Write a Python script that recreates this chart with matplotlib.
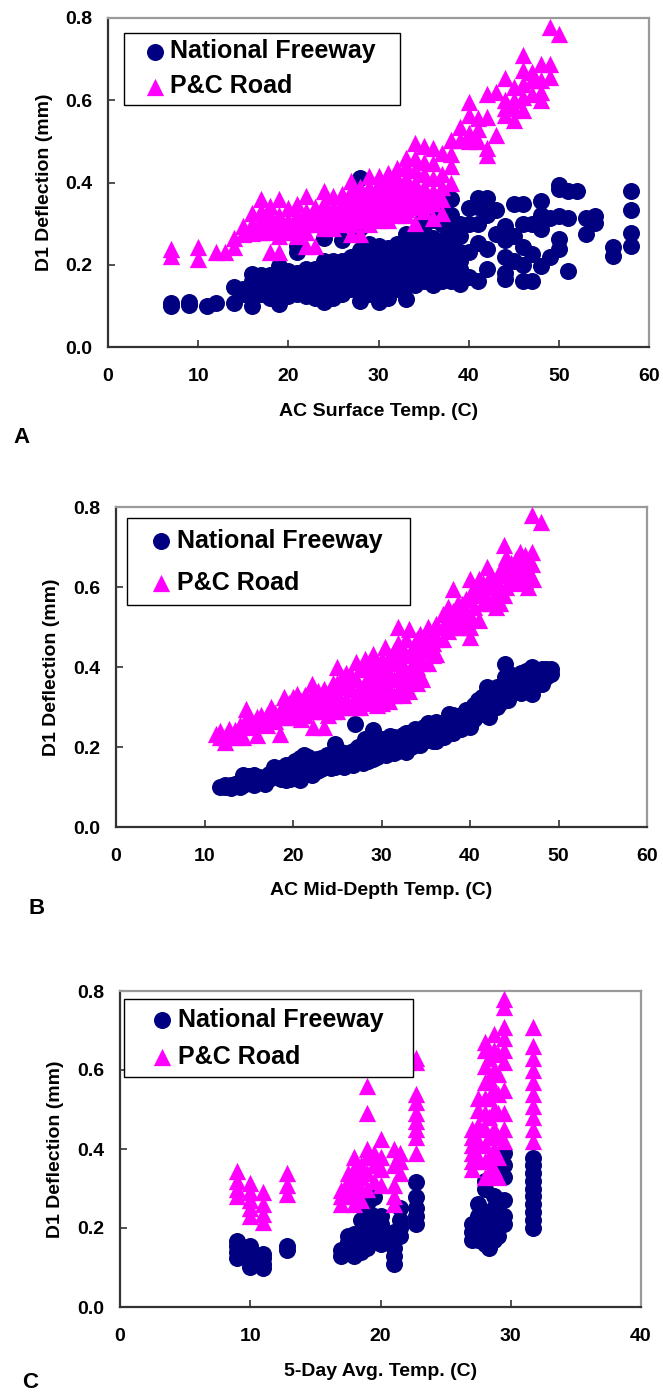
import matplotlib
matplotlib.use("Agg")
import matplotlib.pyplot as plt
from matplotlib.ticker import FormatStrFormatter

plt.rcParams['font.family'] = ['Liberation Sans', 'DejaVu Sans']
plt.rcParams['font.weight'] = 'bold'

# ---------------- Panel A: AC surface temperature ----------------
A_nf_temp = [7, 9, 11, 12, 14, 15, 16, 17, 18, 19, 20, 21, 22, 23, 24, 25, 26, 27, 28, 29,
             30, 31, 32, 33, 34, 35, 36, 37, 38, 39, 40, 41, 42, 43, 44, 45, 46, 47, 48, 49,
             50, 51, 52, 53, 54, 56, 58]
A_nf_defl = [[0.100, 0.108], [0.102, 0.110], [0.100], [0.108], [0.107, 0.145],
             [0.140, 0.130],
             [0.100, 0.125, 0.140, 0.160, 0.177],
             [0.130, 0.150, 0.165, 0.175],
             [0.120, 0.135, 0.150, 0.160, 0.175],
             [0.105, 0.130, 0.150, 0.170, 0.197],
             [0.125, 0.140, 0.155, 0.170, 0.185],
             [0.130, 0.150, 0.165, 0.180, 0.230, 0.245],
             [0.125, 0.140, 0.160, 0.175, 0.190],
             [0.120, 0.140, 0.155, 0.170, 0.190],
             [0.110, 0.130, 0.150, 0.165, 0.180, 0.210, 0.265],
             [0.120, 0.140, 0.160, 0.175, 0.190, 0.210],
             [0.130, 0.150, 0.170, 0.185, 0.200, 0.210, 0.260],
             [0.140, 0.160, 0.175, 0.190, 0.205, 0.220],
             [0.113, 0.150, 0.170, 0.185, 0.200, 0.215, 0.235, 0.290, 0.410],
             [0.130, 0.145, 0.160, 0.180, 0.200, 0.220, 0.240, 0.250],
             [0.110, 0.140, 0.155, 0.170, 0.185, 0.200, 0.215, 0.230, 0.245],
             [0.120, 0.150, 0.160, 0.175, 0.190, 0.205, 0.220, 0.240],
             [0.140, 0.160, 0.180, 0.195, 0.210, 0.230, 0.250],
             [0.117, 0.150, 0.170, 0.190, 0.205, 0.220, 0.250, 0.274],
             [0.150, 0.165, 0.180, 0.195, 0.210, 0.225, 0.240, 0.262],
             [0.160, 0.175, 0.190, 0.210, 0.230, 0.250, 0.280, 0.314],
             [0.150, 0.165, 0.180, 0.195, 0.210, 0.225, 0.240, 0.266, 0.310],
             [0.160, 0.180, 0.200, 0.215, 0.230, 0.260, 0.300, 0.330],
             [0.160, 0.175, 0.190, 0.205, 0.220, 0.250, 0.280, 0.320, 0.359],
             [0.153, 0.170, 0.190, 0.210, 0.230, 0.270, 0.300],
             [0.170, 0.230, 0.300, 0.338],
             [0.161, 0.254, 0.300, 0.340, 0.363],
             [0.190, 0.238, 0.320, 0.363],
             [0.274, 0.334],
             [0.165, 0.180, 0.220, 0.260, 0.294],
             [0.210, 0.270, 0.347],
             [0.161, 0.200, 0.242, 0.300, 0.347],
             [0.161, 0.226, 0.300],
             [0.197, 0.286, 0.320, 0.355],
             [0.218, 0.314],
             [0.238, 0.262, 0.318, 0.383, 0.395],
             [0.185, 0.314, 0.379], [0.379], [0.274, 0.314], [0.302, 0.318], [0.222, 0.242],
             [0.246, 0.278, 0.334, 0.379]]

A_pc_temp = [7, 10, 12, 13, 14, 15, 16, 17, 18, 19, 20, 21, 22, 23, 24, 25, 26, 27, 28, 29,
             30, 31, 32, 33, 34, 35, 36, 37, 38, 39, 40, 41, 42, 43, 44, 45, 46, 47, 48, 49, 50]
A_pc_defl = [[0.222, 0.238], [0.214, 0.242], [0.230], [0.230], [0.242, 0.266], [0.274, 0.294],
             [0.278, 0.300, 0.326],
             [0.280, 0.300, 0.310, 0.330, 0.359],
             [0.230, 0.280, 0.300, 0.320, 0.342],
             [0.230, 0.270, 0.290, 0.305, 0.320, 0.359],
             [0.280, 0.295, 0.310, 0.338],
             [0.270, 0.290, 0.305, 0.320, 0.347],
             [0.246, 0.280, 0.300, 0.315, 0.330, 0.367],
             [0.246, 0.300, 0.320, 0.340],
             [0.290, 0.300, 0.315, 0.330, 0.350, 0.379],
             [0.290, 0.310, 0.325, 0.340, 0.367],
             [0.300, 0.315, 0.330, 0.350, 0.371],
             [0.274, 0.300, 0.320, 0.335, 0.350, 0.365, 0.380, 0.403],
             [0.274, 0.310, 0.325, 0.340, 0.355, 0.370, 0.390],
             [0.300, 0.315, 0.330, 0.345, 0.360, 0.375, 0.390, 0.415],
             [0.310, 0.320, 0.340, 0.355, 0.370, 0.385, 0.400, 0.415],
             [0.310, 0.330, 0.345, 0.360, 0.375, 0.390, 0.405, 0.423],
             [0.320, 0.335, 0.350, 0.365, 0.380, 0.395, 0.410, 0.435],
             [0.320, 0.335, 0.350, 0.365, 0.380, 0.395, 0.410, 0.440, 0.460],
             [0.302, 0.340, 0.355, 0.370, 0.385, 0.400, 0.430, 0.460, 0.496],
             [0.330, 0.345, 0.360, 0.375, 0.390, 0.420, 0.450, 0.488],
             [0.314, 0.350, 0.365, 0.380, 0.410, 0.447, 0.483],
             [0.326, 0.359, 0.390, 0.420, 0.471],
             [0.399, 0.439, 0.470, 0.504],
             [0.504, 0.536],
             [0.500, 0.520, 0.564, 0.596],
             [0.500, 0.530, 0.556],
             [0.467, 0.484, 0.560, 0.616],
             [0.516, 0.620],
             [0.564, 0.580, 0.600, 0.653],
             [0.552, 0.580, 0.600, 0.633],
             [0.576, 0.608, 0.640, 0.673, 0.709],
             [0.616, 0.650, 0.669],
             [0.600, 0.620, 0.649, 0.689],
             [0.657, 0.689, 0.778],
             [0.761]]

# ---------------- Panel B: AC mid-depth temperature ----------------
B_nf_temp = [11.7, 12.3, 13.0, 13.5, 14.0, 14.4, 15.0, 15.6, 16.2, 16.8, 17.3, 17.8, 18.2, 18.7,
             19.2, 19.7, 20.2, 20.8, 21.2, 21.7, 22.2, 22.7, 23.2, 23.8, 24.3, 24.7, 25.2, 25.8,
             26.3, 26.8, 27.0, 27.4, 27.9, 28.1, 28.5, 29.0, 29.5, 30.0, 30.5, 31.0, 31.4, 31.9,
             32.4, 32.8, 33.3, 33.8, 34.3, 34.8, 35.3, 35.8, 36.2, 36.7, 37.1, 37.6, 38.1, 38.6,
             39.0, 39.5, 40.0, 40.5, 40.9, 41.4, 41.9, 42.2, 42.6, 43.0, 43.4, 43.9, 44.3, 44.8,
             45.3, 45.8, 46.3, 46.8, 47.0, 47.5, 48.1, 48.6, 49.1]
B_nf_defl = [[0.100], [0.100, 0.106], [0.104, 0.098], [0.108], [0.100, 0.112], [0.129, 0.106],
             [0.115, 0.128], [0.129, 0.105], [0.118, 0.126], [0.108, 0.125], [0.132, 0.120],
             [0.150, 0.128], [0.140, 0.125], [0.120, 0.135, 0.148], [0.117, 0.140, 0.155],
             [0.120, 0.150, 0.135], [0.165, 0.138, 0.122], [0.118, 0.150, 0.172],
             [0.180, 0.145, 0.130], [0.135, 0.160, 0.175], [0.168, 0.145, 0.130],
             [0.140, 0.150, 0.170], [0.145, 0.155, 0.172], [0.150, 0.165, 0.180],
             [0.148, 0.160, 0.175], [0.208, 0.165, 0.150], [0.160, 0.178, 0.190],
             [0.170, 0.150, 0.185], [0.160, 0.185, 0.172], [0.155, 0.172, 0.190], [0.258],
             [0.165, 0.185, 0.200], [0.160, 0.178, 0.200], [0.221], [0.175, 0.195, 0.165],
             [0.242, 0.170, 0.200, 0.185], [0.175, 0.190, 0.210], [0.185, 0.205, 0.220],
             [0.180, 0.195, 0.220], [0.190, 0.212, 0.228], [0.225, 0.200, 0.185],
             [0.205, 0.222, 0.190], [0.200, 0.230, 0.215], [0.188, 0.215, 0.235],
             [0.200, 0.215, 0.235], [0.205, 0.228, 0.245], [0.220, 0.240, 0.205],
             [0.250, 0.215, 0.232], [0.225, 0.245, 0.260], [0.215, 0.230, 0.255],
             [0.215, 0.240, 0.262], [0.235, 0.260, 0.225], [0.258, 0.225, 0.240],
             [0.245, 0.265, 0.282], [0.235, 0.260, 0.280], [0.255, 0.275, 0.245],
             [0.245, 0.280, 0.262], [0.292, 0.260, 0.275], [0.250, 0.275, 0.295],
             [0.270, 0.285, 0.305], [0.317, 0.295, 0.280], [0.300, 0.325, 0.285],
             [0.350, 0.315, 0.300], [0.275, 0.300, 0.330], [0.320, 0.340, 0.300],
             [0.300, 0.335, 0.350], [0.310, 0.345, 0.325], [0.408, 0.375, 0.320, 0.345],
             [0.317, 0.350, 0.335], [0.335, 0.360, 0.380], [0.340, 0.370, 0.355],
             [0.335, 0.360, 0.385], [0.350, 0.375, 0.390], [0.355, 0.385, 0.370],
             [0.400, 0.333], [0.370, 0.390, 0.355], [0.358, 0.380, 0.395], [0.375, 0.395],
             [0.396, 0.383]]

B_pc_temp = [11.3, 11.8, 12.3, 12.8, 13.5, 14.0, 14.4, 14.7, 15.2, 15.9, 16.4, 17.1, 17.5, 18.0,
             18.5, 19.0, 19.5, 20.0, 20.4, 20.9, 21.4, 22.1, 22.3, 22.8, 23.5, 24.0, 24.5, 25.0,
             25.5, 26.0, 26.5, 27.1, 27.6, 28.1, 28.6, 29.0, 29.5, 30.0, 30.4, 30.9, 31.4, 31.9,
             32.4, 32.8, 33.1, 33.6, 34.0, 34.3, 34.6, 35.2, 35.8, 36.2, 36.9, 37.5, 38.1, 38.6,
             39.1, 39.6, 40.0, 40.5, 41.0, 41.5, 41.9, 42.4, 42.9, 43.4, 43.8, 44.1, 44.6, 45.2,
             45.7, 46.2, 46.5, 47.0, 47.1, 48.0]
B_pc_defl = [[0.233], [0.225, 0.240], [0.225, 0.212], [0.230, 0.245], [0.242, 0.225],
             [0.235, 0.255], [0.225], [0.296, 0.271], [0.250, 0.265], [0.275, 0.229],
             [0.260, 0.280], [0.279, 0.255], [0.300, 0.270], [0.285, 0.265], [0.233, 0.290],
             [0.325, 0.275, 0.300], [0.310, 0.285], [0.300, 0.325, 0.275], [0.333, 0.280, 0.305],
             [0.290, 0.315, 0.270], [0.300, 0.330, 0.280], [0.358, 0.300, 0.330],
             [0.250, 0.320, 0.290], [0.310, 0.340, 0.290], [0.250, 0.320, 0.345, 0.290],
             [0.300, 0.335, 0.280], [0.310, 0.360, 0.290, 0.335], [0.400, 0.330, 0.290, 0.360],
             [0.350, 0.310, 0.375], [0.320, 0.360, 0.385, 0.300], [0.300, 0.345, 0.380],
             [0.413, 0.330, 0.370, 0.300], [0.300, 0.350, 0.395, 0.320],
             [0.320, 0.360, 0.400, 0.420], [0.310, 0.340, 0.380, 0.410],
             [0.433, 0.320, 0.360, 0.395], [0.305, 0.340, 0.375, 0.410],
             [0.310, 0.350, 0.390, 0.420], [0.450, 0.330, 0.365, 0.400],
             [0.315, 0.345, 0.385, 0.425], [0.330, 0.370, 0.410, 0.440],
             [0.500, 0.340, 0.380, 0.420, 0.460], [0.330, 0.360, 0.400, 0.440],
             [0.350, 0.390, 0.430, 0.470], [0.496, 0.340, 0.380], [0.370, 0.410, 0.450],
             [0.360, 0.400, 0.440, 0.470], [0.483, 0.380, 0.420], [0.370, 0.410, 0.450],
             [0.500, 0.440, 0.470, 0.410], [0.460, 0.490, 0.430], [0.508, 0.433, 0.470],
             [0.533, 0.500, 0.470], [0.520, 0.550, 0.490], [0.596, 0.540, 0.510],
             [0.560, 0.530, 0.500], [0.558, 0.520, 0.500], [0.540, 0.570, 0.510],
             [0.475, 0.621, 0.500, 0.530, 0.570], [0.600, 0.580, 0.550], [0.517, 0.600, 0.620],
             [0.590, 0.560, 0.610], [0.650, 0.610, 0.570], [0.560, 0.600, 0.630],
             [0.550, 0.580, 0.620], [0.560, 0.600, 0.640], [0.704, 0.580, 0.660],
             [0.675, 0.630, 0.600], [0.620, 0.660, 0.640], [0.640, 0.670, 0.610],
             [0.688, 0.620, 0.655], [0.617, 0.650, 0.680], [0.630, 0.600], [0.779, 0.688, 0.658],
             [0.620], [0.763]]

# ---------------- Panel C: 5-day average temperature ----------------
C_nf_temp = [9.0, 10.0, 11.0, 12.8, 17.0, 17.5, 18.0, 18.5, 19.0, 19.5, 20.0, 21.0, 21.5, 22.7,
             27.0, 27.5, 28.0, 28.3, 28.7, 29.0, 29.5, 31.7]
C_nf_defl = [[0.125, 0.140, 0.155, 0.168], [0.101, 0.115, 0.130, 0.145, 0.155],
             [0.098, 0.110, 0.125, 0.135], [0.145, 0.155], [0.130, 0.145],
             [0.145, 0.165, 0.180], [0.130, 0.150, 0.170, 0.185], [0.140, 0.160, 0.190, 0.220],
             [0.150, 0.180, 0.210, 0.230, 0.260], [0.170, 0.200, 0.230, 0.278],
             [0.160, 0.190, 0.210, 0.230], [0.110, 0.130, 0.150, 0.170, 0.190],
             [0.180, 0.200, 0.220, 0.250], [0.210, 0.230, 0.250, 0.278, 0.316],
             [0.170, 0.190, 0.210], [0.170, 0.200, 0.230, 0.260],
             [0.160, 0.180, 0.210, 0.240, 0.300, 0.320], [0.150, 0.170, 0.200],
             [0.170, 0.190, 0.220, 0.250, 0.280], [0.180, 0.210, 0.240, 0.270],
             [0.210, 0.230, 0.270, 0.330, 0.360, 0.390],
             [0.200, 0.220, 0.240, 0.260, 0.280, 0.300, 0.320, 0.340, 0.360, 0.378]]

C_pc_temp = [9.0, 10.0, 11.0, 12.8, 17.0, 17.5, 18.0, 18.5, 19.0, 19.5, 20.0, 21.0, 21.5, 22.7,
             27.0, 27.5, 28.0, 28.3, 28.7, 29.0, 29.5, 31.7]
C_pc_defl = [[0.280, 0.300, 0.320, 0.345], [0.230, 0.250, 0.270, 0.290, 0.315],
             [0.215, 0.235, 0.260, 0.290], [0.285, 0.310, 0.340], [0.260, 0.280, 0.295],
             [0.280, 0.300, 0.320, 0.340], [0.260, 0.290, 0.320, 0.350, 0.380],
             [0.270, 0.300, 0.330, 0.360], [0.300, 0.340, 0.380, 0.400, 0.490, 0.560],
             [0.320, 0.360, 0.390], [0.310, 0.350, 0.380, 0.426],
             [0.260, 0.280, 0.310, 0.360, 0.400], [0.340, 0.370, 0.390],
             [0.390, 0.430, 0.450, 0.470, 0.490, 0.520, 0.540, 0.620, 0.630],
             [0.350, 0.370, 0.390, 0.410, 0.430, 0.450], [0.380, 0.420, 0.460, 0.500, 0.530],
             [0.330, 0.370, 0.410, 0.450, 0.490, 0.530, 0.570, 0.610, 0.650, 0.670],
             [0.340, 0.380, 0.430, 0.480, 0.530, 0.580, 0.630],
             [0.350, 0.400, 0.450, 0.500, 0.550, 0.600, 0.650, 0.690],
             [0.330, 0.380, 0.430, 0.490, 0.540, 0.590, 0.640],
             [0.420, 0.450, 0.490, 0.550, 0.620, 0.650, 0.680, 0.710, 0.760, 0.780],
             [0.420, 0.450, 0.480, 0.510, 0.540, 0.570, 0.600, 0.630, 0.660, 0.710]]

x_labels = ["AC Surface Temp. (C)", "AC Mid-Depth Temp. (C)", "5-Day Avg. Temp. (C)"]
y_label = "D1 Deflection (mm)"
series_names = ["National Freeway", "P&C Road"]
panel_letters = ["A", "B", "C"]
x_maxes = [60, 60, 40]


def flatten(temps, defls):
    xs, ys = [], []
    for t, d in zip(temps, defls):
        for v in d:
            xs.append(t)
            ys.append(v)
    return xs, ys


W, H = 663, 1395
fig = plt.figure(figsize=(W / 100, H / 100), dpi=100)

# axes boxes in pixels: left, right, top, bottom
boxes = [(108, 649, 18, 347), (116, 647, 507, 827), (120, 641, 991, 1307)]
# legend: left px, right px, top px, borderpad, labelspacing, handlelength, handletextpad
legend_cfg = [(124, 400, 33, 0.25, 0.44, 1.98, -0.39),
              (127, 410, 518, 0.42, 0.72, 1.88, -0.30),
              (124, 413, 999, 0.34, 0.52, 2.36, -0.54)]
ylabel_x = [53, 60, 64]
xlabel_top = [403, 882, 1363]
letter_pos = [(22, 437), (37, 909), (30, 1383)]

data = [(A_nf_temp, A_nf_defl, A_pc_temp, A_pc_defl),
        (B_nf_temp, B_nf_defl, B_pc_temp, B_pc_defl),
        (C_nf_temp, C_nf_defl, C_pc_temp, C_pc_defl)]

for i in range(3):
    l, r, t, b = boxes[i]
    ax = fig.add_axes([l / W, 1 - b / H, (r - l) / W, (b - t) / H])
    nfx, nfy = flatten(data[i][0], data[i][1])
    pcx, pcy = flatten(data[i][2], data[i][3])
    h1 = ax.scatter(nfx, nfy, s=150, marker='o', color='#000080', linewidths=0, zorder=2)
    h2 = ax.scatter(pcx, pcy, s=155, marker='^', color='#FF00FF', linewidths=0, zorder=3)

    ax.set_xlim(0, x_maxes[i])
    ax.set_ylim(0, 0.8)
    ax.set_xticks(list(range(0, x_maxes[i] + 1, 10)))
    ax.set_yticks([0.0, 0.2, 0.4, 0.6, 0.8])
    ax.yaxis.set_major_formatter(FormatStrFormatter('%.1f'))
    ax.tick_params(direction='in', length=5, width=1.2, top=False, right=False,
                   labelsize=14, color='#333333')
    ax.tick_params(axis='x', pad=15)
    ax.tick_params(axis='y', pad=11)
    for lab in ax.get_xticklabels() + ax.get_yticklabels():
        lab.set_fontweight('bold')

    for side in ['left', 'bottom']:
        ax.spines[side].set_color('#333333')
        ax.spines[side].set_linewidth(1.6)
    for side in ['top', 'right']:
        ax.spines[side].set_color('#9a9a9a')
        ax.spines[side].set_linewidth(1.6)

    ax.set_xlabel(x_labels[i], fontsize=14, fontweight='bold')
    ax.set_ylabel(y_label, fontsize=14, fontweight='bold')
    ax.xaxis.set_label_coords(0.5, -(xlabel_top[i] - b) / (b - t))
    ax.yaxis.set_label_coords((ylabel_x[i] - l) / (r - l), 0.5)

    ll, lr, lt, bp, ls, hl, hp = legend_cfg[i]
    leg = ax.legend([h1, h2], series_names, loc='upper left',
                    bbox_to_anchor=((ll - l) / (r - l), 1 - (lt - t) / (b - t),
                                    (lr - ll) / (r - l), 0),
                    mode='expand', borderaxespad=0, fancybox=False, framealpha=1,
                    edgecolor='black', prop={'size': 18, 'weight': 'bold'},
                    borderpad=bp, labelspacing=ls, handlelength=hl, handletextpad=hp,
                    scatterpoints=1)
    leg.get_frame().set_linewidth(1.0)

    lx, ly = letter_pos[i]
    fig.text(lx / W, 1 - ly / H, panel_letters[i], fontsize=16, fontweight='bold',
             ha='center', va='center')

fig.savefig('out.png', dpi=100)
